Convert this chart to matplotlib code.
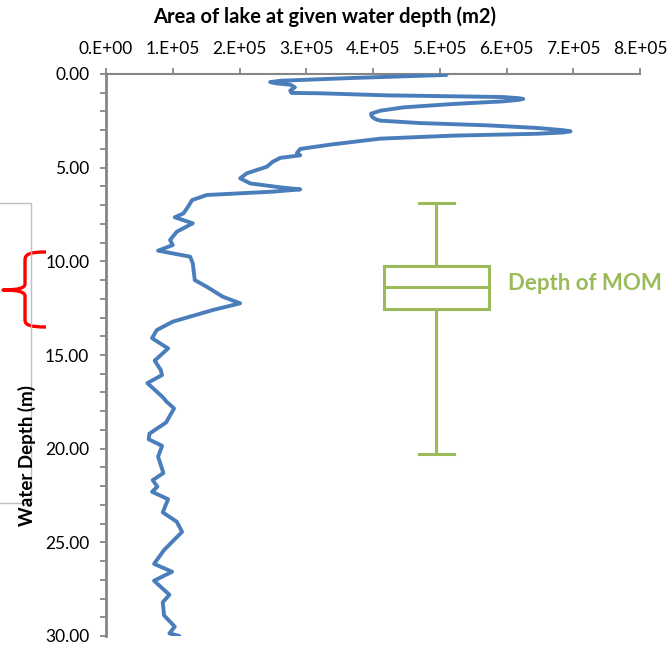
import matplotlib
matplotlib.use("Agg")
import matplotlib.pyplot as plt
from matplotlib.lines import Line2D
from matplotlib.path import Path
from matplotlib.patches import PathPatch
from matplotlib.ticker import MultipleLocator, FuncFormatter

plt.rcParams['font.family'] = ['Lato', 'DejaVu Sans']

# Lake hypsometry: water depth (m) and lake area at that depth (x 1e5 m2)
depth = [0.05, 0.21, 0.36, 0.43, 0.50, 0.57, 0.71, 0.89, 1.01, 1.03, 1.14,
         1.23, 1.29, 1.33, 1.38, 1.46, 1.60, 1.78, 1.96, 2.12, 2.26, 2.40,
         2.49, 2.62, 2.74, 2.88, 3.00, 3.06, 3.12, 3.19, 3.29, 3.45, 3.77,
         4.00, 4.22, 4.34, 4.48, 4.68, 4.95, 5.30, 5.57, 5.84, 6.05, 6.16,
         6.28, 6.46, 6.73, 7.08, 7.44, 7.65, 7.97, 8.42, 8.86, 9.13, 9.43,
         9.75, 10.10, 11.00, 11.36, 11.89, 12.24, 12.60, 13.22, 13.67,
         14.10, 14.65, 15.30, 15.80, 16.07, 16.50, 17.25, 17.50, 17.85,
         18.60, 19.20, 19.50, 19.85, 20.43, 21.30, 21.68, 22.03, 22.30,
         22.70, 23.40, 23.90, 24.44, 25.41, 26.15, 26.57, 27.05, 27.80,
         28.20, 28.90, 29.50, 29.86, 30.00]
area_e5 = [5.10, 3.71, 2.62, 2.46, 2.55, 2.76, 2.83, 2.76, 2.78, 3.21, 4.21,
           5.95, 6.18, 6.25, 6.18, 5.95, 5.20, 4.46, 4.11, 3.97, 3.98, 4.03,
           4.11, 4.71, 5.71, 6.46, 6.85, 6.96, 6.85, 6.46, 5.20, 4.11, 3.36,
           2.91, 2.86, 2.91, 2.61, 2.50, 2.41, 2.11, 2.01, 2.16, 2.61, 2.91,
           2.50, 1.51, 1.29, 1.23, 1.16, 1.03, 1.30, 1.06, 0.96, 1.00, 0.78,
           1.26, 1.30, 1.33, 1.51, 1.75, 2.01, 1.60, 1.00, 0.76,
           0.69, 0.93, 0.73, 0.82, 0.84, 0.62, 0.85, 0.91, 1.02,
           0.90, 0.65, 0.64, 0.84, 0.78, 0.86, 0.70, 0.77, 0.69,
           0.93, 0.85, 1.06, 1.14, 0.87, 0.72, 0.99, 0.72, 0.95,
           0.85, 0.87, 1.03, 0.95, 1.10]
area = [a * 1e5 for a in area_e5]

# Depth of the metalimnetic oxygen minimum (MOM), summary statistics
mom_whislo = 6.90
mom_q1 = 10.25
mom_med = 11.36
mom_q3 = 12.56
mom_whishi = 20.29
mom_x = 4.95e5

x_ticks = [0, 1e5, 2e5, 3e5, 4e5, 5e5, 6e5, 7e5, 8e5]
y_ticks = [0, 5, 10, 15, 20, 25, 30]

BLUE = '#4A7EBB'
GREEN = '#9BBB59'
AXIS_GREY = '#868686'

W, H = 668, 645
fig = plt.figure(figsize=(W / 100, H / 100), dpi=100)


def fx(px):
    return px / W


def fy(py):
    return 1 - py / H


ax = fig.add_axes([fx(106), fy(636), fx(640) - fx(106), fy(74) - fy(636)])

ax.plot(area, depth, color=BLUE, lw=2.8, solid_joinstyle='round',
        solid_capstyle='round', zorder=3)

stats = [dict(whislo=mom_whislo, q1=mom_q1, med=mom_med, q3=mom_q3,
              whishi=mom_whishi, fliers=[])]
ax.bxp(stats, positions=[mom_x], widths=1.57e5, capwidths=0.52e5,
       showfliers=False, patch_artist=True, manage_ticks=False,
       boxprops=dict(facecolor='white', edgecolor=GREEN, lw=2.2),
       medianprops=dict(color=GREEN, lw=2.2),
       whiskerprops=dict(color=GREEN, lw=2.2),
       capprops=dict(color=GREEN, lw=2.2))

ax.set_xlim(0, 8e5)
ax.set_ylim(30, 0)

ax.set_xticks(x_ticks)
ax.xaxis.set_major_formatter(FuncFormatter(
    lambda v, p: '0.E+00' if v == 0 else f'{int(round(v / 1e5))}.E+05'))
ax.set_yticks(y_ticks)
ax.yaxis.set_minor_locator(MultipleLocator(1))
ax.yaxis.set_major_formatter(FuncFormatter(lambda v, p: f'{v:.2f}'))

ax.xaxis.tick_top()
ax.tick_params(axis='x', which='major', direction='out', length=4, width=1.3,
               color=AXIS_GREY, labelsize=12.5, pad=8, top=True, bottom=False)
ax.tick_params(axis='y', which='both', direction='out', length=4, width=1.3,
               color=AXIS_GREY, labelsize=12.5, pad=8)

for side in ['bottom', 'right']:
    ax.spines[side].set_visible(False)
ax.spines['top'].set_color(AXIS_GREY)
ax.spines['top'].set_linewidth(1.5)
ax.spines['left'].set_color(AXIS_GREY)
ax.spines['left'].set_linewidth(2.0)

fig.text(fx(325), fy(17), 'Area of lake at given water depth (m2)',
         ha='center', va='center', fontsize=14.5, fontweight='bold')
fig.text(fx(27), fy(455), 'Water Depth (m)', rotation=90,
         ha='center', va='center', fontsize=13.5, fontweight='bold')
fig.text(fx(508), fy(284), 'Depth of MOM', ha='left', va='center',
         fontsize=16, fontweight='bold', color=GREEN)

# grey bracket at the left edge
fig.add_artist(Line2D([fx(0), fx(31), fx(31), fx(0)],
                      [fy(203), fy(203), fy(503), fy(503)],
                      transform=fig.transFigure, color='#BFBFBF', lw=1.0))

# red curly brace marking the MOM depth range
brace = [
    (46, 252), (30, 252), (25, 254), (25, 260),
    (25, 284), (25, 288), (18, 290), (3, 290),
    (18, 290), (25, 292), (25, 296),
    (25, 320), (25, 325), (30, 327), (46, 327),
]
codes = [Path.MOVETO, Path.CURVE4, Path.CURVE4, Path.CURVE4,
         Path.LINETO, Path.CURVE4, Path.CURVE4, Path.CURVE4,
         Path.CURVE4, Path.CURVE4, Path.CURVE4,
         Path.LINETO, Path.CURVE4, Path.CURVE4, Path.CURVE4]
verts = [(fx(x), fy(y)) for x, y in brace]
fig.add_artist(PathPatch(Path(verts, codes), transform=fig.transFigure,
                         fill=False, edgecolor='#FF0000', lw=2.4,
                         joinstyle='round', capstyle='butt'))

fig.savefig('out.png', dpi=100)
